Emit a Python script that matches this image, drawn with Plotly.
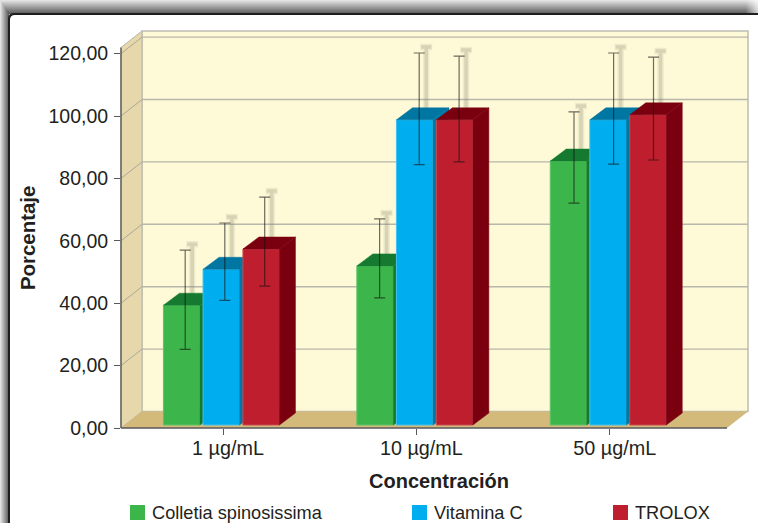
import plotly.graph_objects as go

# ---------- data ----------
categories = ["1 µg/mL", "10 µg/mL", "50 µg/mL"]
series_names = ["Colletia spinosissima", "Vitamina C", "TROLOX"]
colletia = [38.4, 51.0, 84.6]
vitamina_c = [49.9, 97.8, 97.8]
trolox = [56.4, 97.8, 99.4]
colletia_high = [57.0, 67.0, 101.3]
colletia_low = [25.2, 41.7, 72.1]
vitamina_high = [65.7, 120.2, 120.2]
vitamina_low = [40.9, 84.4, 84.6]
trolox_high = [74.0, 119.2, 118.9]
trolox_low = [45.5, 85.3, 85.9]
y_ticks = [0, 20, 40, 60, 80, 100, 120]
y_tick_labels = ["0,00", "20,00", "40,00", "60,00", "80,00", "100,00", "120,00"]
x_title = "Concentración"
y_title = "Porcentaje"

# ---------- geometry (pixels of the 758x523 page) ----------
W, H = 758, 523
PXU = 3.12          # pixels per value unit
CAT = 193.4         # pixels per category
AX_L, AX_R, AX_B = 121, 727, 428
BACK_R, WALL_T = 748, 31
DX, DY = 21, 16.5   # wall depth
C0 = 223            # first category centre
def PX(x): return x / W
def PY(y): return 1 - y / H
XR = [(AX_L - C0) / CAT, (BACK_R - C0) / CAT]
YR = [0, (AX_B - WALL_T) / PXU]
DOMX = [PX(AX_L), PX(BACK_R)]
DOMY = [PY(AX_B), PY(WALL_T)]
BASE = 3 / PXU
BAR_W = 36.5 / CAT
BAR_DX = 16 / CAT
BAR_DY = 12 / PXU
SHADOW_DX, SHADOW_DY = 7 / CAT, 6 / PXU
SLOTS = [-41.3 / CAT, -1.7 / CAT, 38.2 / CAT]
face_colors = ["#3CB54A", "#00AEEF", "#BE1E2D"]
edge_colors = ["#5CC468", "#3FC2F2", "#CB4A55"]
top_colors = ["#157A30", "#0076A3", "#7A0010"]
legend_x = [130, 412, 613]

def err_x(i, s):
    # error bars sit a little right of the bar centre, more so further along the axis
    return i + SLOTS[s] + (3.5 + i) / CAT

series = [
    (colletia, colletia_high, colletia_low),
    (vitamina_c, vitamina_high, vitamina_low),
    (trolox, trolox_high, trolox_low),
]
TEXT = "#231F20"
FONT = "Liberation Sans, Arial, sans-serif"

fig = go.Figure()

# ---------- blurred error-bar shadows on the wall ----------
for s, (vals, high, low) in enumerate(series):
    xs = [err_x(i, s) + SHADOW_DX for i in range(len(vals))]
    ys = [v + BASE + SHADOW_DY for v in vals]
    ups = [h - v - BASE for h, v in zip(high, vals)]
    for th, wd, col in ((6.5, 6, "rgba(140,138,115,0.13)"), (3.5, 5, "rgba(140,138,115,0.24)")):
        fig.add_trace(go.Scatter(x=xs, y=ys, mode="markers", marker=dict(size=1, opacity=0),
                                 showlegend=False, hoverinfo="skip",
                                 error_y=dict(type="data", symmetric=False, array=ups,
                                              arrayminus=[0] * len(ups), color=col,
                                              thickness=th, width=wd)))

# ---------- bars: one overlaid subplot per series, so the paint order is left to right ----------
for s, (vals, high, low) in enumerate(series):
    ax = str(s + 2)
    xs = [i + SLOTS[s] for i in range(len(vals))]
    fig.add_trace(go.Bar(x=xs, y=vals, base=BASE, width=BAR_W, name=series_names[s], showlegend=False,
                         marker=dict(color=face_colors[s], line=dict(color=edge_colors[s], width=1)),
                         xaxis="x" + ax, yaxis="y" + ax))
    px, py = [], []
    tx, ty = [], []
    for x, v in zip(xs, vals):
        r = x + BAR_W / 2
        l = x - BAR_W / 2
        t = v + BASE
        px += [r, r + BAR_DX, r + BAR_DX, r, r, None]
        py += [BASE, BASE + BAR_DY, t + BAR_DY, t, BASE, None]
        tx += [l, l + BAR_DX, r + BAR_DX, r, l, None]
        ty += [t, t + BAR_DY, t + BAR_DY, t, t, None]
    for ax_x, ax_y in ((px, py), (tx, ty)):
        fig.add_trace(go.Scatter(x=ax_x, y=ax_y, mode="lines", fill="toself", fillcolor=top_colors[s],
                                 line=dict(color=top_colors[s], width=0.5), showlegend=False,
                                 hoverinfo="skip", xaxis="x" + ax, yaxis="y" + ax))

# ---------- error bars in front ----------
for s, (vals, high, low) in enumerate(series):
    xs = [err_x(i, s) for i in range(len(vals))]
    tops = [v + BASE for v in vals]
    fig.add_trace(go.Scatter(x=xs, y=tops, mode="markers", marker=dict(size=1, opacity=0),
                             showlegend=False, hoverinfo="skip", xaxis="x5", yaxis="y5",
                             error_y=dict(type="data", symmetric=False,
                                          array=[h - t for h, t in zip(high, tops)],
                                          arrayminus=[t - l for t, l in zip(tops, low)],
                                          color="rgba(20,20,20,0.62)", thickness=1.2, width=5.5)))

# ---------- frame and chart walls ----------
def poly(pts):
    return "M" + "L".join(f"{PX(x):.5f},{PY(y):.5f}" for x, y in pts) + "Z"

def grey(t):
    c = int(round(226 - (226 - 92) * t))
    return f"rgb({c},{c},{c})"

shapes = []
for i in range(14):
    shapes.append(dict(type="rect", xref="paper", yref="paper", x0=PX(i * 9 / 14), x1=PX(W),
                       y0=PY(i), y1=PY(i + 1), fillcolor=grey(i / 13), line_width=0, layer="below"))
for i in range(9):
    shapes.append(dict(type="rect", xref="paper", yref="paper", x0=PX(i), x1=PX(i + 1),
                       y0=PY(i * 13 / 9), y1=PY(H), fillcolor=grey(i / 8), line_width=0, layer="below"))
for i in range(13):
    shapes.append(dict(type="rect", xref="paper", yref="paper", x0=PX(745 + i), x1=PX(746 + i),
                       y0=PY(0), y1=PY(13), fillcolor=f"rgba(255,255,255,{0.06 * i:.2f})",
                       line_width=0, layer="below"))
def rounded(x0, y0, r):
    x1, y1 = PX(W + 20), PY(H + 20)
    return (f"M{PX(x0):.5f},{y1:.5f}L{PX(x0):.5f},{PY(y0 + r):.5f}"
            f"Q{PX(x0):.5f},{PY(y0):.5f} {PX(x0 + r):.5f},{PY(y0):.5f}"
            f"L{x1:.5f},{PY(y0):.5f}L{x1:.5f},{y1:.5f}Z")
shapes.append(dict(type="path", xref="paper", yref="paper", path=rounded(8, 13, 6),
                   fillcolor="#1E1E1E", line_width=0, layer="below"))
shapes.append(dict(type="path", xref="paper", yref="paper", path=rounded(10, 15, 5),
                   fillcolor="#FFFFFF", line_width=0, layer="below"))

B_T, B_B = WALL_T, AX_B - DY
BX = AX_L + DX
shapes.append(dict(type="path", xref="paper", yref="paper",
                   path=poly([(BX, B_T), (BACK_R, B_T), (BACK_R, B_B), (BX, B_B)]),
                   fillcolor="#FEF9D6", line=dict(color="#BDBDB2", width=1.5), layer="below"))
shapes.append(dict(type="path", xref="paper", yref="paper",
                   path=poly([(AX_L, WALL_T + DY), (BX, B_T), (BX, B_B), (AX_L, AX_B)]),
                   fillcolor="#E6D8AB", line=dict(color="#B9B7A6", width=1), layer="below"))
shapes.append(dict(type="path", xref="paper", yref="paper",
                   path=poly([(AX_L, AX_B), (BX, B_B), (BACK_R, B_B), (AX_R, AX_B)]),
                   fillcolor="#D3BA7A", line_width=0, layer="below"))
for v in y_ticks[1:]:
    fy = AX_B - v * PXU
    shapes.append(dict(type="line", xref="paper", yref="paper", x0=PX(BX), x1=PX(BACK_R),
                       y0=PY(fy - DY), y1=PY(fy - DY), line=dict(color="#B7B7AC", width=1.4), layer="below"))
    shapes.append(dict(type="line", xref="paper", yref="paper", x0=PX(AX_L), x1=PX(BX),
                       y0=PY(fy), y1=PY(fy - DY), line=dict(color="#A9A89A", width=1), layer="below"))
shapes.append(dict(type="line", xref="paper", yref="paper", x0=PX(AX_L), x1=PX(AX_R),
                   y0=PY(AX_B), y1=PY(AX_B), line=dict(color="#58595B", width=1.6), layer="between"))
shapes.append(dict(type="line", xref="paper", yref="paper", x0=PX(AX_L), x1=PX(AX_L),
                   y0=PY(AX_B), y1=PY(WALL_T + DY), line=dict(color="#58595B", width=1.4), layer="between"))

# ---------- legend row and axis titles ----------
annotations = [
    dict(xref="paper", yref="paper", x=PX(438.5), y=PY(481), xanchor="center", yanchor="middle",
         text=f"<b>{x_title}</b>", showarrow=False, font=dict(family=FONT, size=20, color=TEXT)),
    dict(xref="paper", yref="paper", x=PX(28), y=PY(238), xanchor="center", yanchor="middle", textangle=-90,
         text=f"<b>{y_title}</b>", showarrow=False, font=dict(family=FONT, size=20.4, color=TEXT)),
]
for name, col, lx in zip(series_names, face_colors, legend_x):
    shapes.append(dict(type="rect", xref="paper", yref="paper", x0=PX(lx), x1=PX(lx + 15),
                       y0=PY(520), y1=PY(505), fillcolor=col, line_width=0, layer="above"))
    annotations.append(dict(xref="paper", yref="paper", x=PX(lx + 20), y=PY(513), xanchor="left",
                            yanchor="middle", text=name, showarrow=False,
                            font=dict(family=FONT, size=18.2, color=TEXT)))

layout_axes = {}
for n in (2, 3, 4, 5):
    layout_axes[f"xaxis{n}"] = dict(domain=DOMX, range=XR, overlaying="x", anchor=f"y{n}", visible=False, fixedrange=True)
    layout_axes[f"yaxis{n}"] = dict(domain=DOMY, range=YR, overlaying="y", anchor=f"x{n}", visible=False, fixedrange=True)

fig.update_layout(
    width=W, height=H, autosize=False,
    margin=dict(l=0, r=0, t=0, b=0, autoexpand=False),
    paper_bgcolor="#FFFFFF", plot_bgcolor="rgba(0,0,0,0)",
    barmode="overlay", shapes=shapes, annotations=annotations, showlegend=False,
    font=dict(family=FONT, color=TEXT),
    xaxis=dict(domain=DOMX, range=XR, tickmode="array", tickvals=list(range(len(categories))),
               ticktext=categories, ticks="outside", ticklen=6, tickwidth=1, tickcolor="#58595B",
               showgrid=False, zeroline=False, showline=False, ticklabelshift=5, ticklabelstandoff=-4,
               automargin=False, tickfont=dict(family=FONT, size=19.8, color=TEXT), fixedrange=True),
    yaxis=dict(domain=DOMY, range=YR, tickmode="array", tickvals=y_ticks, ticktext=y_tick_labels,
               ticks="outside", ticklen=6, tickwidth=1, tickcolor="#58595B", showgrid=False, automargin=False,
               ticklabelstandoff=2, zeroline=False, showline=False,
               tickfont=dict(family=FONT, size=19.5, color=TEXT), fixedrange=True),
    **layout_axes,
)

fig.write_html("out.html", config=dict(displayModeBar=False),
               post_script="document.body.style.margin='0';document.documentElement.style.overflow='hidden';")
